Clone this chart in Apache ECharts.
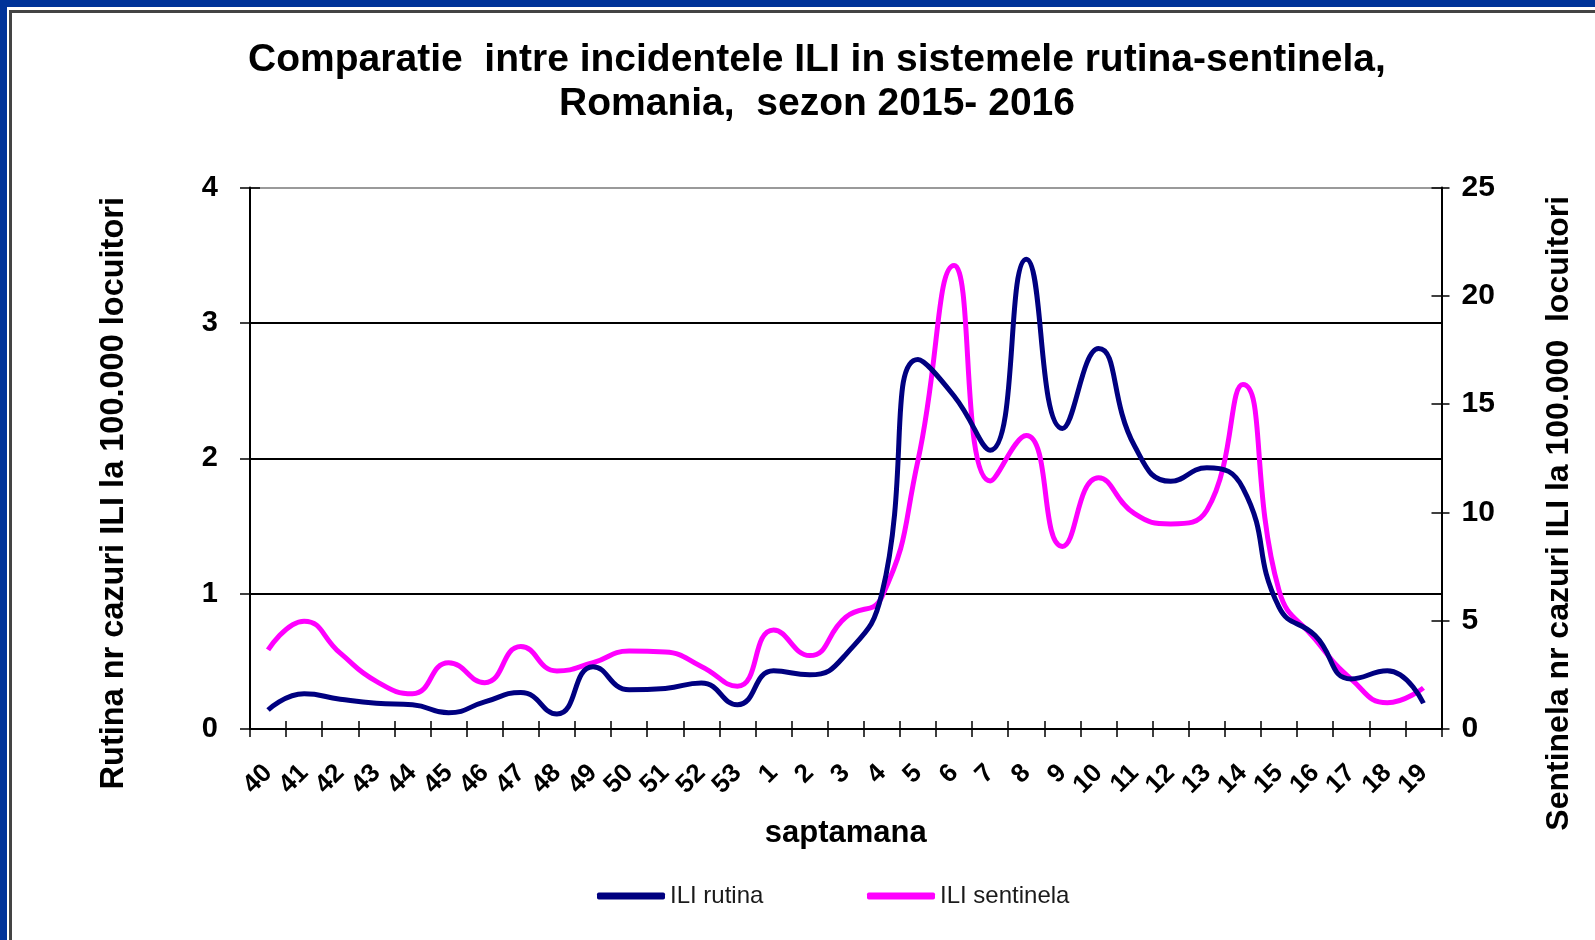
<!DOCTYPE html>
<html><head><meta charset="utf-8">
<script src="https://cdn.jsdelivr.net/npm/echarts@6/dist/echarts.min.js"></script>
<style>html,body{margin:0;padding:0;background:#fff}#c{width:1595px;height:940px}</style>
</head><body><div id="c"></div>
<script>
const weeks = ['40','41','42','43','44','45','46','47','48','49','50','51','52','53','1','2','3','4','5','6','7','8','9','10','11','12','13','14','15','16','17','18','19'];
const rutina = [0.14,0.26,0.22,0.19,0.18,0.12,0.20,0.27,0.11,0.46,0.29,0.30,0.34,0.18,0.43,0.40,0.55,1.0,2.73,2.46,2.06,3.47,2.22,2.81,2.09,1.83,1.93,1.78,0.90,0.69,0.37,0.43,0.19];
const sentinela = [3.65,4.98,3.5,2.2,1.63,3.06,2.14,3.81,2.68,3.06,3.6,3.55,2.89,1.97,4.57,3.39,5.16,6.1,12.4,21.4,11.45,13.55,8.43,11.6,9.94,9.47,10.1,15.9,6.4,4.15,2.3,1.21,1.9];
const titleText = 'Comparatie  intre incidentele ILI in sistemele rutina-sentinela,\nRomania,  sezon 2015- 2016';
const leftAxisName = 'Rutina nr cazuri ILI la 100.000 locuitori';
const rightAxisName = 'Sentinela nr cazuri ILI la 100.000  locuitori';
const xAxisName = 'saptamana';
const seriesNames = ['ILI rutina', 'ILI sentinela'];

const FONT = '"Liberation Sans", Arial, sans-serif';
const chart = echarts.init(document.getElementById('c'), null, {renderer: 'canvas'});
const boldLabel = {fontFamily: FONT, fontWeight: 'bold', color: '#000'};

chart.setOption({
  backgroundColor: '#fff',
  animation: false,
  graphic: [
    {type: 'rect', z: -10, shape: {x: 0, y: 0, width: 1595, height: 7}, style: {fill: '#003399'}},
    {type: 'rect', z: -10, shape: {x: 0, y: 0, width: 7, height: 940}, style: {fill: '#003399'}},
    {type: 'line', z: -10, shape: {x1: 10.5, y1: 10, x2: 10.5, y2: 940}, style: {stroke: '#444', lineWidth: 3}},
    {type: 'line', z: -10, shape: {x1: 9, y1: 11.5, x2: 1595, y2: 11.5}, style: {stroke: '#444', lineWidth: 3}},
    {type: 'text', x: 817, y: 38, z: 10,
     style: {text: titleText, textAlign: 'center', textVerticalAlign: 'top', lineHeight: 44,
             fontFamily: FONT, fontWeight: 'bold', fontSize: 39, fill: '#000'}}
  ],
  legend: [
    {data: [seriesNames[0]], left: 592, top: 879, itemWidth: 68, itemHeight: 7, icon: 'roundRect',
     textStyle: {fontFamily: FONT, fontSize: 24, color: '#1a1a1a'}},
    {data: [seriesNames[1]], left: 862, top: 879, itemWidth: 68, itemHeight: 7, icon: 'roundRect',
     textStyle: {fontFamily: FONT, fontSize: 24, color: '#1a1a1a'}}
  ],
  grid: {left: 250, right: 153.5, top: 187.5, bottom: 211, containLabel: false},
  xAxis: [
    {type: 'category', data: weeks, boundaryGap: true, position: 'bottom',
     axisLine: {show: true, lineStyle: {color: '#000', width: 2}},
     axisTick: {show: true, interval: 0, length: 8, lineStyle: {color: '#000', width: 1.5}},
     axisLabel: Object.assign({interval: 0, rotate: 45, fontSize: 26, margin: 40}, boldLabel),
     name: xAxisName, nameLocation: 'middle', nameGap: 89,
     nameTextStyle: {fontFamily: FONT, fontWeight: 'bold', fontSize: 31, color: '#000'}},
    {type: 'category', data: weeks, boundaryGap: true, position: 'bottom',
     axisLine: {show: false},
     axisTick: {show: true, inside: true, interval: 0, length: 8, lineStyle: {color: '#000', width: 1.5}},
     axisLabel: {show: false}}
  ],
  yAxis: [
    {type: 'value', min: 0, max: 4, interval: 1, position: 'left',
     axisLine: {show: true, lineStyle: {color: '#000', width: 2}},
     axisTick: {show: true, length: 10, lineStyle: {color: '#000', width: 1.5}},
     axisLabel: Object.assign({fontSize: 29, margin: 32}, boldLabel),
     splitLine: {show: true, lineStyle: {color: ['#000', '#000', '#000', '#000', '#9a9a9a'], width: 2}},
     name: leftAxisName, nameLocation: 'middle', nameRotate: 90, nameGap: 119,
     nameTextStyle: {fontFamily: FONT, fontWeight: 'bold', fontSize: 32.5, color: '#000', padding: [0, 70, 0, 0]}},
    {type: 'value', min: 0, max: 25, interval: 5, position: 'right',
     axisLine: {show: true, lineStyle: {color: '#000', width: 2}},
     axisTick: {show: true, length: 8, lineStyle: {color: '#000', width: 1.5}},
     axisLabel: Object.assign({fontSize: 30, margin: 20}, boldLabel),
     splitLine: {show: false},
     name: rightAxisName, nameLocation: 'middle', nameRotate: 90, nameGap: 102,
     nameTextStyle: {fontFamily: FONT, fontWeight: 'bold', fontSize: 32, color: '#000', padding: [0, 110, 0, 0]}},
    {type: 'value', min: 0, max: 4, interval: 1, position: 'left',
     axisLine: {show: false}, axisLabel: {show: false}, splitLine: {show: false},
     axisTick: {show: true, inside: true, length: 10, lineStyle: {color: '#000', width: 1.5}}},
    {type: 'value', min: 0, max: 25, interval: 5, position: 'right',
     axisLine: {show: false}, axisLabel: {show: false}, splitLine: {show: false},
     axisTick: {show: true, inside: true, length: 10, lineStyle: {color: '#000', width: 1.5}}}
  ],
  series: [
    {name: seriesNames[0], type: 'line', xAxisIndex: 0, yAxisIndex: 0, data: rutina, smooth: 0.5,
     symbol: 'none', lineStyle: {color: '#000080', width: 5}, itemStyle: {color: '#000080'}, z: 3},
    {name: seriesNames[1], type: 'line', xAxisIndex: 0, yAxisIndex: 1, data: sentinela, smooth: 0.5,
     symbol: 'none', lineStyle: {color: '#ff00ff', width: 5}, itemStyle: {color: '#ff00ff'}, z: 2}
  ]
});
</script></body></html>
